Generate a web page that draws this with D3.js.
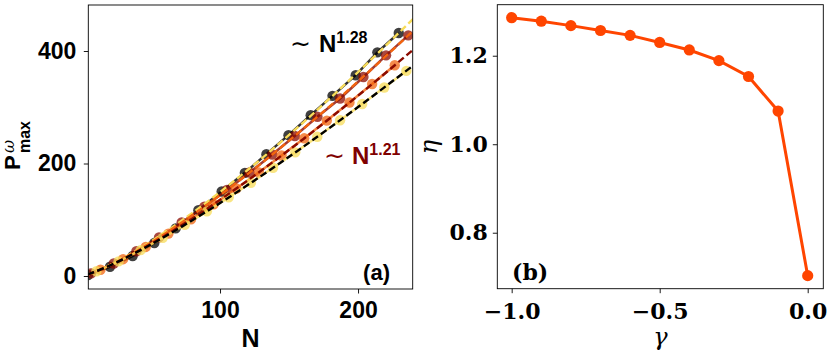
<!DOCTYPE html>
<html>
<head>
<meta charset="utf-8">
<script src="https://cdn.jsdelivr.net/npm/d3@7"></script>
<style>
  body { margin: 0; background: #fff; }
  svg { display: block; }
  .sans { font-family: "Liberation Sans", Arial, sans-serif; font-weight: bold; }
  .serif { font-family: "DejaVu Serif", serif; font-weight: bold; }
</style>
</head>
<body>
<div id="chart"></div>
<script>
// panel (a): P_max vs N for four values of gamma
const nBlack = [4.4, 20.3, 36.7, 52.4, 67.9, 84.3, 101.2, 118, 133.6, 149.6, 165.7, 181.5, 198.3, 214, 229.5];
const pBlack = [1.8, 16.5, 35.5, 58.6, 84.7, 117, 150.3, 183.4, 216.6, 250.4, 286, 320.3, 357, 397.6, 432];

const nDarkRed = [6.6, 23, 39.4, 55.8, 72.2, 88.6, 105, 121.4, 137.8, 154.2, 170.6, 187, 203.9, 220.3, 236.4];
const pDarkRed = [4.6, 22.3, 44.1, 68.6, 95.1, 123.3, 152.9, 183.9, 215.9, 248.9, 283.0, 315.5, 353.8, 392.3, 427.8];

const nOrange = [13.4, 29.8, 46.2, 62.6, 79, 95.4, 111.8, 128.2, 144.6, 161, 177.4, 193.8, 210.2, 226.6];
const pOrange = [11.1, 29.9, 51.7, 75.4, 100.8, 127.4, 155.5, 184.3, 214.3, 244.8, 276.3, 308.5, 341.3, 374.6];

const nYellow = [10.5, 26.5, 42.5, 58.5, 74.5, 90.5, 106.3, 122.4, 138.4, 154.5, 170.5, 187, 203, 219, 235];
const pYellow = [8.5, 26, 46, 67.9, 90.9, 115, 139.8, 165.8, 192.4, 219.8, 247.6, 276.9, 305.7, 335.2, 364.6];

const nFit = [4, 20, 40, 80, 120, 160, 200, 240];
const fitBlack = [2.4, 19.0, 46.2, 112.2, 188.4, 272.4, 362.5, 457.3];
const fitDarkRed = [2.4, 18.7, 45.0, 108.3, 181.1, 261.0, 346.0, 436.0];
const fitOrange = [2.5, 18.2, 43.2, 102.4, 169.8, 242.8, 320.6, 402.4];
const fitYellow = [2.6, 18.5, 42.8, 99.1, 161.7, 229.2, 300.4, 374.3];

const xTicksA = [100, 200];
const yTicksA = [0, 200, 400];

// panel (b): exponent eta vs gamma
const gamma = [-1.0, -0.9, -0.8, -0.7, -0.6, -0.5, -0.4, -0.3, -0.2, -0.1, 0.0];
const eta = [1.286, 1.278, 1.268, 1.257, 1.246, 1.230, 1.213, 1.189, 1.153, 1.075, 0.703];

const xTicksB = [-1.0, -0.5, 0.0];
const yTicksB = [0.8, 1.0, 1.2];

const width = 830, height = 356;

const svg = d3.select("#chart").append("svg")
  .attr("width", width)
  .attr("height", height);

// ---------- panel (a) ----------
const boxA = {left: 88.3, right: 412.7, top: 5, bottom: 289};

const xA = d3.scaleLinear().domain([4.57, 239.6]).range([boxA.left, boxA.right]);
const yA = d3.scaleLinear().domain([-23.1, 481.8]).range([boxA.bottom, boxA.top]);

svg.append("clipPath").attr("id", "clipA")
  .append("rect")
  .attr("x", boxA.left).attr("y", boxA.top)
  .attr("width", boxA.right - boxA.left)
  .attr("height", boxA.bottom - boxA.top);

const series = [
  {n: nBlack, p: pBlack, fitP: fitBlack, color: "#000000", fit: "#f7dc5a"},
  {n: nDarkRed, p: pDarkRed, fitP: fitDarkRed, color: "#8b0b00", fit: "#f2640f"},
  {n: nOrange, p: pOrange, fitP: fitOrange, color: "#f2640f", fit: "#8b0b00"},
  {n: nYellow, p: pYellow, fitP: fitYellow, color: "#f7dc5a", fit: "#000000"}
];

const plotA = svg.append("g").attr("clip-path", "url(#clipA)");

const lineA = d3.line()
  .curve(d3.curveMonotoneX)
  .x(d => xA(d[0]))
  .y(d => yA(d[1]));

series.forEach(s => {
  const pts = s.n.map((n, i) => [n, s.p[i]]);
  plotA.append("path")
    .attr("d", d3.line().x(d => xA(d[0])).y(d => yA(d[1]))(pts))
    .attr("fill", "none")
    .attr("stroke", s.color)
    .attr("stroke-width", 2.5)
    .attr("stroke-opacity", 0.8);
  plotA.selectAll(null)
    .data(pts)
    .enter().append("circle")
    .attr("cx", d => xA(d[0]))
    .attr("cy", d => yA(d[1]))
    .attr("r", 5.2)
    .attr("fill", s.color)
    .attr("fill-opacity", 0.75);
});

// fitted power laws drawn dashed on top
series.forEach(s => {
  const pts = nFit.map((n, i) => [n, s.fitP[i]]);
  plotA.append("path")
    .attr("d", lineA(pts))
    .attr("fill", "none")
    .attr("stroke", s.fit)
    .attr("stroke-width", 2.4)
    .attr("stroke-dasharray", "7,3.5");
});

const xAxisA = svg.append("g")
  .attr("transform", `translate(0,${boxA.bottom})`)
  .call(d3.axisBottom(xA).tickValues(xTicksA).tickSize(4.5).tickPadding(8).tickSizeOuter(0));

const yAxisA = svg.append("g")
  .attr("transform", `translate(${boxA.left},0)`)
  .call(d3.axisLeft(yA).tickValues(yTicksA).tickSize(4.5).tickPadding(7.5).tickSizeOuter(0));

[xAxisA, yAxisA].forEach(g => {
  g.select(".domain").remove();
  g.selectAll("text").attr("font-size", 23).attr("fill", "#000")
    .attr("font-family", "Liberation Sans, Arial, sans-serif").attr("font-weight", "bold");
  g.selectAll("line").attr("stroke", "#000").attr("stroke-width", 0.9);
});

svg.append("rect")
  .attr("x", boxA.left).attr("y", boxA.top)
  .attr("width", boxA.right - boxA.left)
  .attr("height", boxA.bottom - boxA.top)
  .attr("fill", "none")
  .attr("stroke", "#000")
  .attr("stroke-width", 0.9);

// axis labels
svg.append("text")
  .attr("class", "sans")
  .attr("x", (boxA.left + boxA.right) / 2)
  .attr("y", 347)
  .attr("text-anchor", "middle")
  .attr("font-size", 25)
  .text("N");

const yLab = svg.append("g").attr("transform", "translate(20,170) rotate(-90)");
yLab.append("text").attr("class", "sans").attr("font-size", 22).attr("x", 0).attr("y", 0).text("P");
yLab.append("text").attr("font-family", "DejaVu Serif, serif").attr("font-style", "italic")
  .attr("font-size", 16).attr("x", 17).attr("y", -6).text("ω");
yLab.append("text").attr("class", "sans").attr("font-size", 16).attr("x", 17).attr("y", 10).text("max");

// scaling annotations
const ann1 = svg.append("text").attr("x", 290).attr("y", 52).attr("fill", "#000");
ann1.append("tspan").attr("font-family", "DejaVu Sans, sans-serif").attr("font-size", 25).text("∼");
ann1.append("tspan").attr("class", "sans").attr("font-size", 24).attr("dx", 8).text("N");
ann1.append("tspan").attr("class", "sans").attr("font-size", 16).attr("dy", -9).text("1.28");

const ann2 = svg.append("text").attr("x", 324).attr("y", 164).attr("fill", "#7f0000");
ann2.append("tspan").attr("font-family", "DejaVu Sans, sans-serif").attr("font-size", 25).text("∼");
ann2.append("tspan").attr("class", "sans").attr("font-size", 24).attr("dx", 7).text("N");
ann2.append("tspan").attr("class", "sans").attr("font-size", 16).attr("dy", -9).text("1.21");

svg.append("text")
  .attr("class", "sans")
  .attr("x", 390).attr("y", 280)
  .attr("text-anchor", "end")
  .attr("font-size", 22)
  .text("(a)");

// ---------- panel (b) ----------
const boxB = {left: 497.3, right: 823.3, top: 4.7, bottom: 288.7};

const xB = d3.scaleLinear().domain([-1.0486, 0.0527]).range([boxB.left, boxB.right]);
const yB = d3.scaleLinear().domain([0.6735, 1.3153]).range([boxB.bottom, boxB.top]);

const ptsB = gamma.map((g, i) => [g, eta[i]]);

svg.append("path")
  .attr("d", d3.line().x(d => xB(d[0])).y(d => yB(d[1]))(ptsB))
  .attr("fill", "none")
  .attr("stroke", "#ff4500")
  .attr("stroke-width", 3);

svg.selectAll(null)
  .data(ptsB)
  .enter().append("circle")
  .attr("cx", d => xB(d[0]))
  .attr("cy", d => yB(d[1]))
  .attr("r", 5.6)
  .attr("fill", "#ff4500");

const fmt = d3.format(".1f");
const minusFmt = v => fmt(v).replace("-", "−");

const xAxisB = svg.append("g")
  .attr("transform", `translate(0,${boxB.bottom})`)
  .call(d3.axisBottom(xB).tickValues(xTicksB).tickFormat(minusFmt).tickSize(4.5).tickPadding(10).tickSizeOuter(0));

const yAxisB = svg.append("g")
  .attr("transform", `translate(${boxB.left},0)`)
  .call(d3.axisLeft(yB).tickValues(yTicksB).tickFormat(minusFmt).tickSize(4.5).tickPadding(5).tickSizeOuter(0));

[xAxisB, yAxisB].forEach(g => {
  g.select(".domain").remove();
  g.selectAll("text").attr("font-size", 22).attr("fill", "#000")
    .attr("font-family", "DejaVu Serif, serif").attr("font-weight", "bold");
  g.selectAll("line").attr("stroke", "#000").attr("stroke-width", 0.9);
});

svg.append("rect")
  .attr("x", boxB.left).attr("y", boxB.top)
  .attr("width", boxB.right - boxB.left)
  .attr("height", boxB.bottom - boxB.top)
  .attr("fill", "none")
  .attr("stroke", "#000")
  .attr("stroke-width", 0.9);

svg.append("text")
  .attr("x", (boxB.left + boxB.right) / 2)
  .attr("y", 345)
  .attr("text-anchor", "middle")
  .attr("font-family", "DejaVu Serif, serif")
  .attr("font-style", "italic")
  .attr("font-size", 24)
  .text("γ");

svg.append("text")
  .attr("transform", "translate(437,147) rotate(-90)")
  .attr("text-anchor", "middle")
  .attr("font-family", "DejaVu Serif, serif")
  .attr("font-style", "italic")
  .attr("font-size", 24)
  .text("η");

svg.append("text")
  .attr("class", "serif")
  .attr("x", 512).attr("y", 280)
  .attr("font-size", 22)
  .text("(b)");
</script>
</body>
</html>
